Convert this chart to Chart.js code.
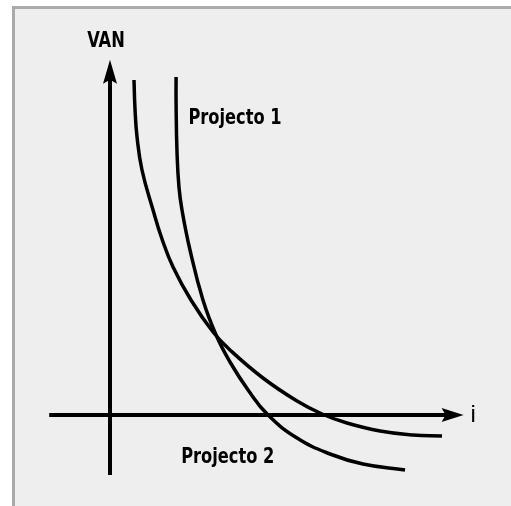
<!DOCTYPE html>
<html>
<head>
<meta charset="utf-8">
<script src="https://cdn.jsdelivr.net/npm/chart.js@4.4.1/dist/chart.umd.min.js"></script>
<style>
  html, body { margin: 0; padding: 0; background: #fff; }
  #frame {
    position: absolute; left: 12px; top: 6px; right: 0; bottom: 0;
    background: #eeeeee;
    border-left: 3px solid #aaaaaa;
    border-top: 3px solid #aaaaaa;
  }
  #wrap { position: absolute; left: 0; top: 0; width: 511px; height: 506px; }
</style>
</head>
<body>
<div id="frame"></div>
<div id="wrap"><canvas id="lineChart" width="511" height="506"></canvas></div>
<script>
// taxa i (eixo x) e VAN (eixo y)
let iProj1 = [4.13, 4.13, 4.19, 4.31, 4.5, 5.0, 5.81, 6.63, 7.5, 8.63, 9.88, 11.69, 13.75, 15.81, 18.44];
let vanProj1 = [84.5, 78, 65.5, 57, 51.25, 41.25, 28.75, 20, 13.25, 6.25, 0, -5.75, -9.75, -12.25, -13.75];
let iProj2 = [1.5, 1.56, 1.69, 2.0, 2.69, 3.25, 3.94, 5.06, 6.44, 7.5, 9.56, 11.69, 13.25, 14.81, 16.88, 18.94, 20.75];
let vanProj2 = [83.75, 76.75, 69.5, 61.25, 51.25, 44, 37, 28.75, 20.75, 16.25, 9.25, 3.5, 0.25, -2, -4, -5, -5.25];

// extremos dos eixos desenhados
let axisX = [-3.8, 22.1];
let axisY = [-15, 88.8];

function toPoints(xs, ys) {
  let pts = [];
  for (let k = 0; k < xs.length; k++) {
    pts.push({ x: xs[k], y: ys[k] });
  }
  return pts;
}

// texto estreito (fonte condensada)
function narrowText(ctx, txt, x, y, align) {
  let sc = 0.86;
  ctx.save();
  ctx.translate(x, y);
  ctx.scale(sc, 1);
  ctx.textAlign = align;
  ctx.fillText(txt, 0, 0);
  ctx.restore();
}

//eixos com setas e textos
let axesPlugin = {
  id: 'axesPlugin',
  afterDatasetsDraw(chart) {
    let ctx = chart.ctx;
    let sx = chart.scales.x;
    let sy = chart.scales.y;
    let x0 = sx.getPixelForValue(0);
    let y0 = sy.getPixelForValue(0);
    let xl = sx.getPixelForValue(axisX[0]);
    let xr = sx.getPixelForValue(axisX[1]);
    let yb = sy.getPixelForValue(axisY[0]);
    let yt = sy.getPixelForValue(axisY[1]);

    ctx.save();
    ctx.strokeStyle = '#000';
    ctx.fillStyle = '#000';
    ctx.lineWidth = 4;
    ctx.beginPath();
    ctx.moveTo(xl, y0);
    ctx.lineTo(xr - 15, y0);
    ctx.moveTo(x0, yb);
    ctx.lineTo(x0, yt + 15);
    ctx.stroke();

    // seta x
    ctx.beginPath();
    ctx.moveTo(xr, y0);
    ctx.lineTo(xr - 22, y0 - 7);
    ctx.lineTo(xr - 18, y0);
    ctx.lineTo(xr - 22, y0 + 7);
    ctx.closePath();
    ctx.fill();
    // seta y
    ctx.beginPath();
    ctx.moveTo(x0, yt);
    ctx.lineTo(x0 - 7, yt + 24);
    ctx.lineTo(x0, yt + 20);
    ctx.lineTo(x0 + 7, yt + 24);
    ctx.closePath();
    ctx.fill();

    ctx.font = "bold 21px 'DejaVu Sans Condensed', 'Liberation Sans', sans-serif";
    ctx.textBaseline = 'alphabetic';
    narrowText(ctx, 'VAN', x0 - 4, yt - 13, 'center');
    narrowText(ctx, 'Projecto 1', sx.getPixelForValue(4.9), sy.getPixelForValue(72.8), 'left');
    narrowText(ctx, 'Projecto 2', sx.getPixelForValue(4.45), sy.getPixelForValue(-12), 'left');
    ctx.font = "24px 'Liberation Sans', Arial, sans-serif";
    ctx.textAlign = 'left';
    ctx.fillText('i', xr + 7, y0 + 7);
    ctx.restore();
  }
};

let lineCtx = document.getElementById('lineChart');
let lineChart = new Chart(lineCtx, {
  type: 'line',
  data: {
    datasets: [{
      label: 'Projecto 1',
      data: toPoints(iProj1, vanProj1),
      borderColor: '#000',
      borderWidth: 3.5,
      pointRadius: 0,
      tension: 0.45,
      fill: false
    }, {
      label: 'Projecto 2',
      data: toPoints(iProj2, vanProj2),
      borderColor: '#000',
      borderWidth: 3.5,
      pointRadius: 0,
      tension: 0.45,
      fill: false
    }]
  },
  options: {
    responsive: false,
    animation: false,
    layout: { padding: { left: 46, right: 33, top: 55, bottom: 11 } },
    plugins: { legend: { display: false }, tooltip: { enabled: false } },
    scales: {
      x: { type: 'linear', min: -4, max: 23, display: false },
      y: { type: 'linear', min: -20, max: 90, display: false }
    }
  },
  plugins: [axesPlugin]
});
</script>
</body>
</html>
